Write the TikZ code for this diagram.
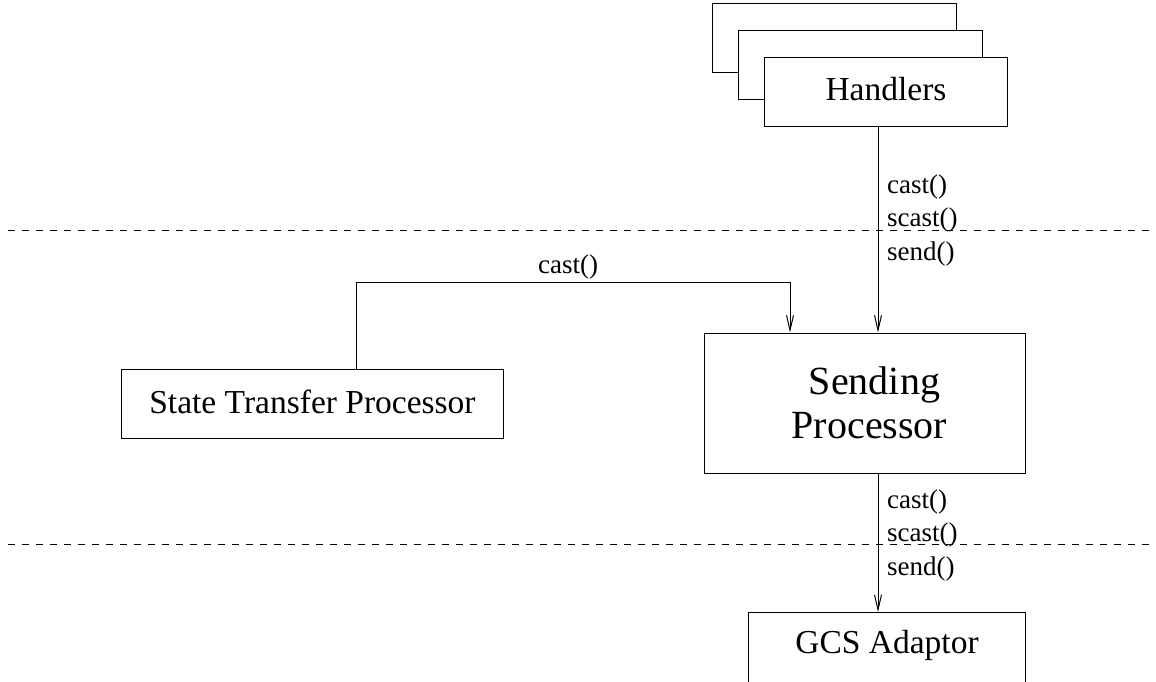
\documentclass[tikz,border=0pt]{standalone}
\usepackage{fontspec}
\setmainfont{Liberation Serif}
\usetikzlibrary{arrows.meta}
\begin{document}
\begin{tikzpicture}[x=1pt,y=-1pt,
  box/.style={draw,line width=1pt,fill=white,inner sep=0pt,
    font=\fontsize{33.5}{40}\selectfont},
  lbl/.style={inner sep=0pt,anchor=base west,font=\fontsize{27}{32}\selectfont},
  arr/.style={line width=1pt,-{Straight Barb[length=15pt,width=7pt]}},
  sep/.style={line width=1pt,dash pattern=on 7pt off 7pt}]
\useasboundingbox (0,0) rectangle (1156,682);

% layer separators
\draw[sep] (8,230) -- (1156,230);
\draw[sep] (8,544) -- (1156,544);

% stacked handler boxes, back to front
\node[box,anchor=north west,minimum width=244pt,minimum height=69pt] (hback) at (712,3) {};
\node[box,anchor=north west,minimum width=244pt,minimum height=69pt] (hmid) at (738,30) {};
\node[box,anchor=north west,minimum width=243pt,text height=43pt,text depth=26pt] (hand) at (764,57) {Handlers};

% processors
\node[box,anchor=north west,minimum width=382pt,text height=44pt,text depth=25pt] (stp) at (121,369) {State Transfer Processor};
\node[box,minimum width=321pt,minimum height=140pt,align=center,
  font=\fontsize{40}{44}\selectfont] (sp) at (864.5,403) {\hspace*{20pt}Sending\\\hspace*{10pt}Processor};

% group communication adaptor
\node[box,anchor=north west,minimum width=277pt,text height=41pt,text depth=40pt] (gcs) at (748,612) {GCS Adaptor};

% connectors
\coordinate (bus) at (878,0);
\coordinate (stx) at (356,0);
\coordinate (elbow) at (790,282);
\draw[arr] (hand.south -| bus) -- (sp.north -| bus);
\draw[arr] (sp.south -| bus) -- (gcs.north -| bus);
\draw[arr] (stp.north -| stx) |- (elbow) -- (sp.north -| elbow);

% call labels
\node[inner sep=0pt,anchor=base,font=\fontsize{27}{32}\selectfont] (tcast) at (568,273) {cast()};
\node[lbl] (ucast) at (887,193) {cast()};
\node[lbl] (uscast) at (887,226.5) {scast()};
\node[lbl] (usend) at (887,260) {send()};
\node[lbl] (lcast) at (887,508) {cast()};
\node[lbl] (lscast) at (887,541.5) {scast()};
\node[lbl] (lsend) at (887,575) {send()};
\end{tikzpicture}
\end{document}
